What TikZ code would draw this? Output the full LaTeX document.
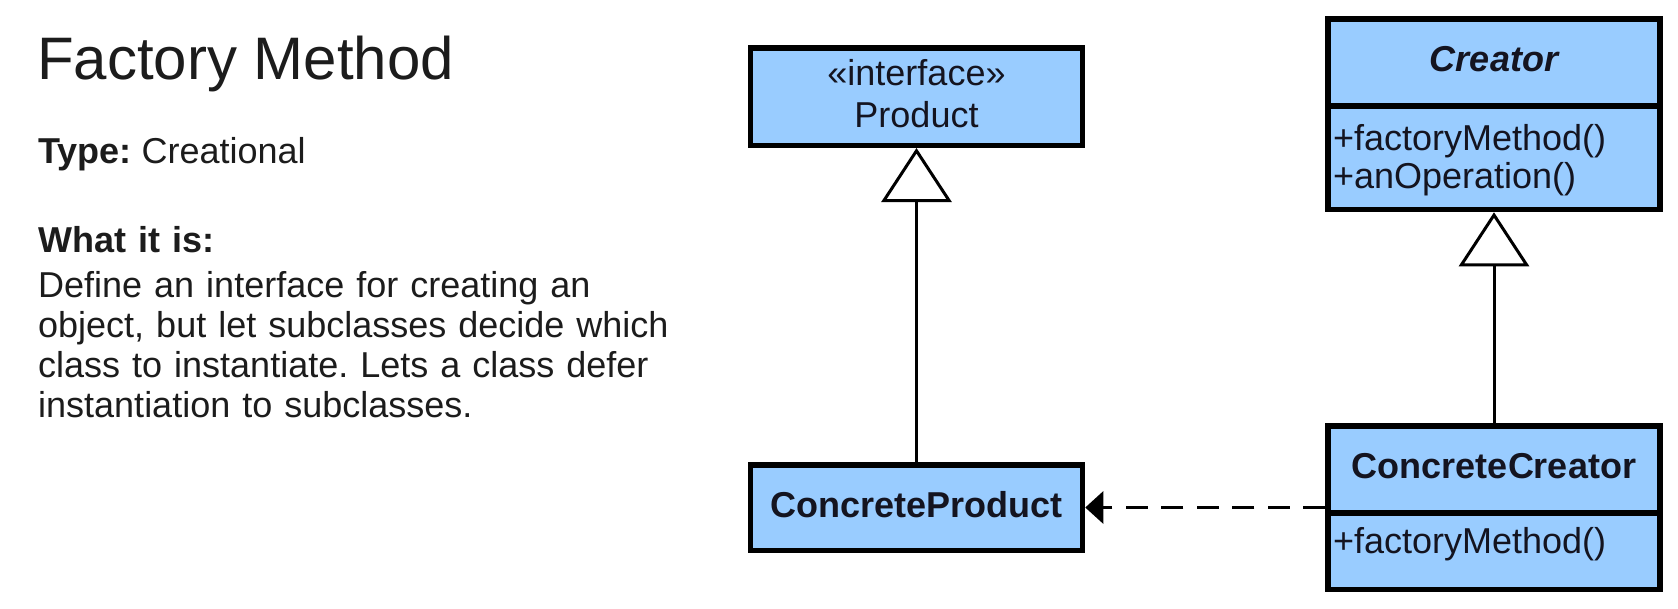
\documentclass[tikz,border=0pt]{standalone}
\usepackage{fontspec}
\setmainfont{Liberation Sans}
\usepackage{tikz}
\usetikzlibrary{positioning, arrows.meta, calc}
\frenchspacing
\definecolor{umlblue}{HTML}{99CCFF}
\definecolor{ink}{HTML}{141420}
\definecolor{prosegray}{HTML}{1C1C1C}
\newcommand{\umlfont}{\fontsize{36pt}{36.5pt}\selectfont}
\tikzset{cls/.style={draw=black, line width=5.5pt, fill=umlblue, text=ink, minimum width=332pt, inner xsep=5pt, text height=26pt, text depth=7pt, font=\umlfont}}
\tikzset{clsops/.style={cls, text width=322pt, align=left, minimum height=#1}}
\tikzset{inherit/.style={draw, line width=3pt, -{Triangle[open, length=54pt, width=70pt]}}}
\tikzset{depend/.style={draw, line width=3pt, dash pattern=on 22pt off 13.5pt, -{Triangle[length=18pt, width=32pt]}}}
\tikzset{prose/.style={inner sep=0pt, anchor=base west, text=prosegray}}

\begin{document}
\begin{tikzpicture}[x=1pt, y=-1pt]
	\useasboundingbox (0,0) rectangle (1678,608);
	% left column
	\node[prose, font=\fontsize{60pt}{60pt}\selectfont] (title) at (37,79) {Factory Method};
	\node[prose, font=\umlfont] (kind) at (38,163) {\textbf{Type:} Creational};
	\node[prose, font=\fontsize{36pt}{40pt}\selectfont, text width=700pt, align=left] (about) at (38,252)
		{\textbf{What it is:}\\[5pt]Define an interface for creating an\\object, but let subclasses decide which\\class to instantiate. Lets a class defer\\instantiation to subclasses.};
	% classes
	\node[cls, minimum height=97.5pt, text width=322pt, align=center, text depth=49pt] (prod) at (916.5,96.5) {«interface»\\[5.5pt]Product};
	\node[cls, minimum height=85.5pt, font=\umlfont\bfseries] (cprod) at (916.5,507.5) {ConcreteProduct};
	\node[cls, minimum height=87.25pt, font=\umlfont\bfseries\itshape] (crh) at (1494,62.4) {Creator};
	\node[clsops=103.5pt, text depth=41pt, below=-5.5pt of crh] (crb) {+factoryMethod()\\[2pt]+anOperation()};
	\node[cls, minimum height=87.25pt, font=\umlfont\bfseries] (cch) at (1494,469.4) {ConcreteCreator};
	\node[clsops=76.5pt, text depth=22.5pt, below=-5.5pt of cch] (ccb) {+factoryMethod()};
	% relations
	\draw[inherit] (cprod) -- (prod);
	\draw[inherit] (cch) -- (crb);
	\draw[depend] (cch.west |- cprod.east) -- (cprod.east);
\end{tikzpicture}
\end{document}
